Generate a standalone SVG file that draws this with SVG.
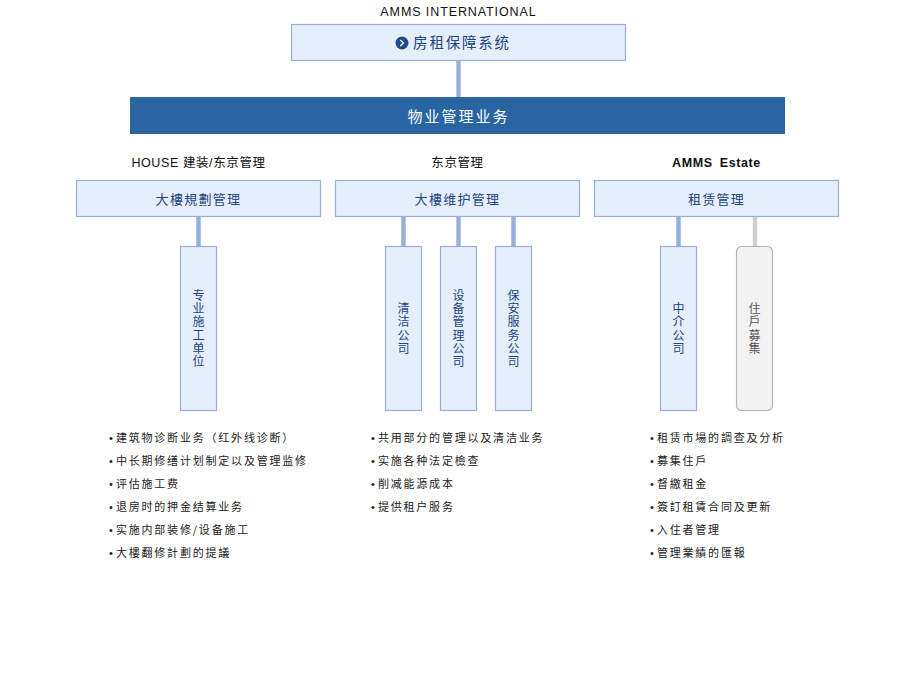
<svg xmlns="http://www.w3.org/2000/svg" width="920" height="681" viewBox="0 0 920 681">
<style>
.box{fill:#e5eefd;stroke:#9aafd8;stroke-width:1.2}
.gbox{fill:#f2f2f2;stroke:#b5b5b5;stroke-width:1.2}
.lbl{font-family:"Noto Sans CJK SC","Noto Sans",sans-serif;font-size:13px;fill:#21457f;text-anchor:middle;letter-spacing:1.3px}
.vl{font-family:"Noto Sans CJK SC",sans-serif;font-size:12px;fill:#21457f;text-anchor:middle;writing-mode:vertical-rl;letter-spacing:1.2px}
.gvl{font-family:"Noto Sans CJK TC","Noto Sans CJK SC",sans-serif;font-size:12px;fill:#555;text-anchor:middle;writing-mode:vertical-rl;letter-spacing:1.2px}
.hd{font-family:"Liberation Sans","Noto Sans CJK SC",sans-serif;font-size:12.5px;fill:#111;text-anchor:middle;letter-spacing:0.6px}
.bl{font-family:"Noto Sans CJK SC","Noto Sans CJK TC",sans-serif;font-size:11px;fill:#222;letter-spacing:1.8px}
.bu{font-family:"Liberation Sans",sans-serif;letter-spacing:0}
.conn{stroke:#9aafd8;stroke-width:4.5;fill:none}
.gconn{stroke:#d0d0d0;stroke-width:4.5;fill:none}
</style>
<rect width="920" height="681" fill="#fff"/>
<g id="connectors">
<line class="conn" x1="458.5" y1="60" x2="458.5" y2="97"/>
<line class="conn" x1="198.5" y1="216" x2="198.5" y2="246"/>
<line class="conn" x1="403.5" y1="216" x2="403.5" y2="246"/>
<line class="conn" x1="458.5" y1="216" x2="458.5" y2="246"/>
<line class="conn" x1="513.5" y1="216" x2="513.5" y2="246"/>
<line class="conn" x1="678.5" y1="216" x2="678.5" y2="246"/>
<line class="gconn" x1="755" y1="216" x2="755" y2="246"/>
</g>
<g id="top">
<text class="hd" x="458.5" y="16" style="letter-spacing:0.9px">AMMS INTERNATIONAL</text>
<rect class="box" x="291.5" y="24.5" width="334" height="36"/>
<circle cx="402" cy="43" r="6.5" fill="#1f4a8c"/>
<path d="M400.3 40 L403.3 43 L400.3 46" stroke="#fff" stroke-width="1.4" fill="none"/>
<text class="lbl" x="462" y="48" style="font-size:14.5px;letter-spacing:1.8px">房租保障系统</text>
</g>
<g id="main">
<rect x="130" y="97" width="655" height="37" fill="#2a65a3"/>
<text class="lbl" x="458.5" y="122" style="fill:#fff;font-size:15px;letter-spacing:2px">物业管理业务</text>
</g>
<g id="house">
<text class="hd" x="198.5" y="167">HOUSE 建装/东京管理</text>
<rect class="box" x="76.5" y="180.5" width="244" height="36"/>
<text class="lbl" x="198.5" y="204">大樓規劃管理</text>
</g>
<g id="tokyo">
<text class="hd" x="457.5" y="167">东京管理</text>
<rect class="box" x="335.5" y="180.5" width="244" height="36"/>
<text class="lbl" x="457.5" y="204">大樓维护管理</text>
</g>
<g id="estate">
<text class="hd" x="716.5" y="167" style="font-weight:bold;word-spacing:3px">AMMS Estate</text>
<rect class="box" x="594.5" y="180.5" width="244" height="36"/>
<text class="lbl" x="716.5" y="204">租赁管理</text>
</g>
<g id="sub-zhuanye">
<rect class="box" x="180.5" y="246.5" width="36" height="164"/>
<text class="vl" x="198.5" y="329">专业施工单位</text>
</g>
<g id="sub-qingjie">
<rect class="box" x="385.5" y="246.5" width="36" height="164"/>
<text class="vl" x="403.5" y="329">清洁公司</text>
</g>
<g id="sub-shebei">
<rect class="box" x="440.5" y="246.5" width="36" height="164"/>
<text class="vl" x="458.5" y="329">设备管理公司</text>
</g>
<g id="sub-baoan">
<rect class="box" x="495.5" y="246.5" width="36" height="164"/>
<text class="vl" x="513.5" y="329">保安服务公司</text>
</g>
<g id="sub-zhongjie">
<rect class="box" x="660.5" y="246.5" width="36" height="164"/>
<text class="vl" x="678.5" y="329">中介公司</text>
</g>
<g id="sub-zhuhu">
<rect class="gbox" x="736.5" y="246.5" width="36" height="164" rx="5"/>
<text class="gvl" x="754.5" y="329">住戶募集</text>
</g>
<g id="list-house">
<text class="bl" x="109" y="442"><tspan class="bu">• </tspan>建筑物诊断业务（红外线诊断）</text>
<text class="bl" x="109" y="465"><tspan class="bu">• </tspan>中长期修缮计划制定以及管理监修</text>
<text class="bl" x="109" y="488"><tspan class="bu">• </tspan>评估施工费</text>
<text class="bl" x="109" y="511"><tspan class="bu">• </tspan>退房时的押金结算业务</text>
<text class="bl" x="109" y="534"><tspan class="bu">• </tspan>实施内部装修/设备施工</text>
<text class="bl" x="109" y="557"><tspan class="bu">• </tspan>大樓翻修計劃的提議</text>
</g>
<g id="list-tokyo">
<text class="bl" x="371" y="442"><tspan class="bu">• </tspan>共用部分的管理以及清洁业务</text>
<text class="bl" x="371" y="465"><tspan class="bu">• </tspan>实施各种法定檢查</text>
<text class="bl" x="371" y="488"><tspan class="bu">• </tspan>削减能源成本</text>
<text class="bl" x="371" y="511"><tspan class="bu">• </tspan>提供租户服务</text>
</g>
<g id="list-estate">
<text class="bl" x="650" y="442"><tspan class="bu">• </tspan>租赁市場的調查及分析</text>
<text class="bl" x="650" y="465"><tspan class="bu">• </tspan>募集住戶</text>
<text class="bl" x="650" y="488"><tspan class="bu">• </tspan>督繳租金</text>
<text class="bl" x="650" y="511"><tspan class="bu">• </tspan>簽訂租賃合同及更新</text>
<text class="bl" x="650" y="534"><tspan class="bu">• </tspan>入住者管理</text>
<text class="bl" x="650" y="557"><tspan class="bu">• </tspan>管理業績的匯報</text>
</g>
</svg>
